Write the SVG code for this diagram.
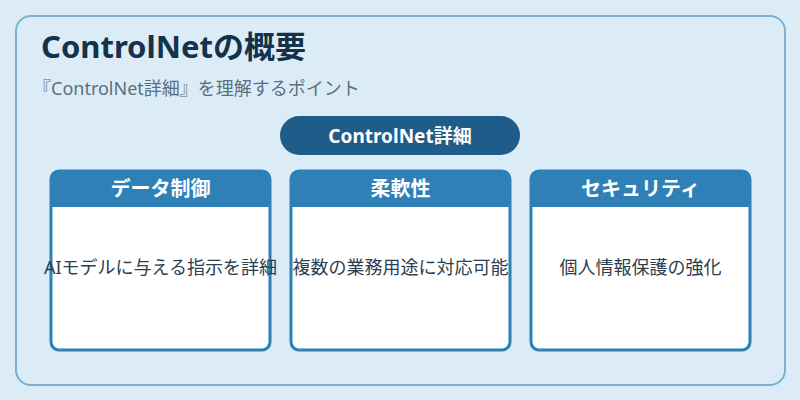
<svg xmlns="http://www.w3.org/2000/svg" width="800" height="400" viewBox="0 0 800 400">
<style>
text{font-family:"Noto Sans","Noto Sans CJK JP",sans-serif;}
.card{fill:#ffffff;stroke:#2e80b6;stroke-width:3;}
.hdr{fill:#2e80b6;}
.ht{fill:#ffffff;font-size:20px;font-weight:bold;text-anchor:middle;}
.bt{fill:#2c3e50;font-size:18px;text-anchor:middle;}
</style>
<rect x="0" y="0" width="800" height="400" fill="#dcecf7"/>
<rect x="16" y="16" width="769" height="369" rx="15" fill="#dcecf7" stroke="#7ab0d4" stroke-width="2"/>
<g id="title">
<text x="41" y="58" font-size="31" font-weight="bold" fill="#14324a">ControlNetの概要</text>
<text x="33" y="95" font-size="18" fill="#5a6f80">『ControlNet詳細』を理解するポイント</text>
</g>
<g id="main">
<rect x="280" y="116" width="240" height="39" rx="19.5" fill="#1f5c8a"/>
<text x="400" y="143" fill="#ffffff" font-size="19" font-weight="bold" text-anchor="middle">ControlNet詳細</text>
</g>
<g id="connectors"></g>
<g id="card1">
<rect class="card" x="51" y="171" width="219" height="179" rx="8"/>
<path class="hdr" d="M51,207 V179 a8,8 0 0 1 8,-8 H262 a8,8 0 0 1 8,8 V207 Z"/>
<text class="ht" x="160.5" y="196">データ制御</text>
<text class="bt" x="160.5" y="274">AIモデルに与える指示を詳細</text>
</g>
<g id="card2">
<rect class="card" x="291" y="171" width="219" height="179" rx="8"/>
<path class="hdr" d="M291,207 V179 a8,8 0 0 1 8,-8 H502 a8,8 0 0 1 8,8 V207 Z"/>
<text class="ht" x="400.5" y="196">柔軟性</text>
<text class="bt" x="400.5" y="274">複数の業務用途に対応可能</text>
</g>
<g id="card3">
<rect class="card" x="531" y="171" width="219" height="179" rx="8"/>
<path class="hdr" d="M531,207 V179 a8,8 0 0 1 8,-8 H742 a8,8 0 0 1 8,8 V207 Z"/>
<text class="ht" x="640.5" y="196">セキュリティ</text>
<text class="bt" x="640.5" y="274">個人情報保護の強化</text>
</g>
</svg>
